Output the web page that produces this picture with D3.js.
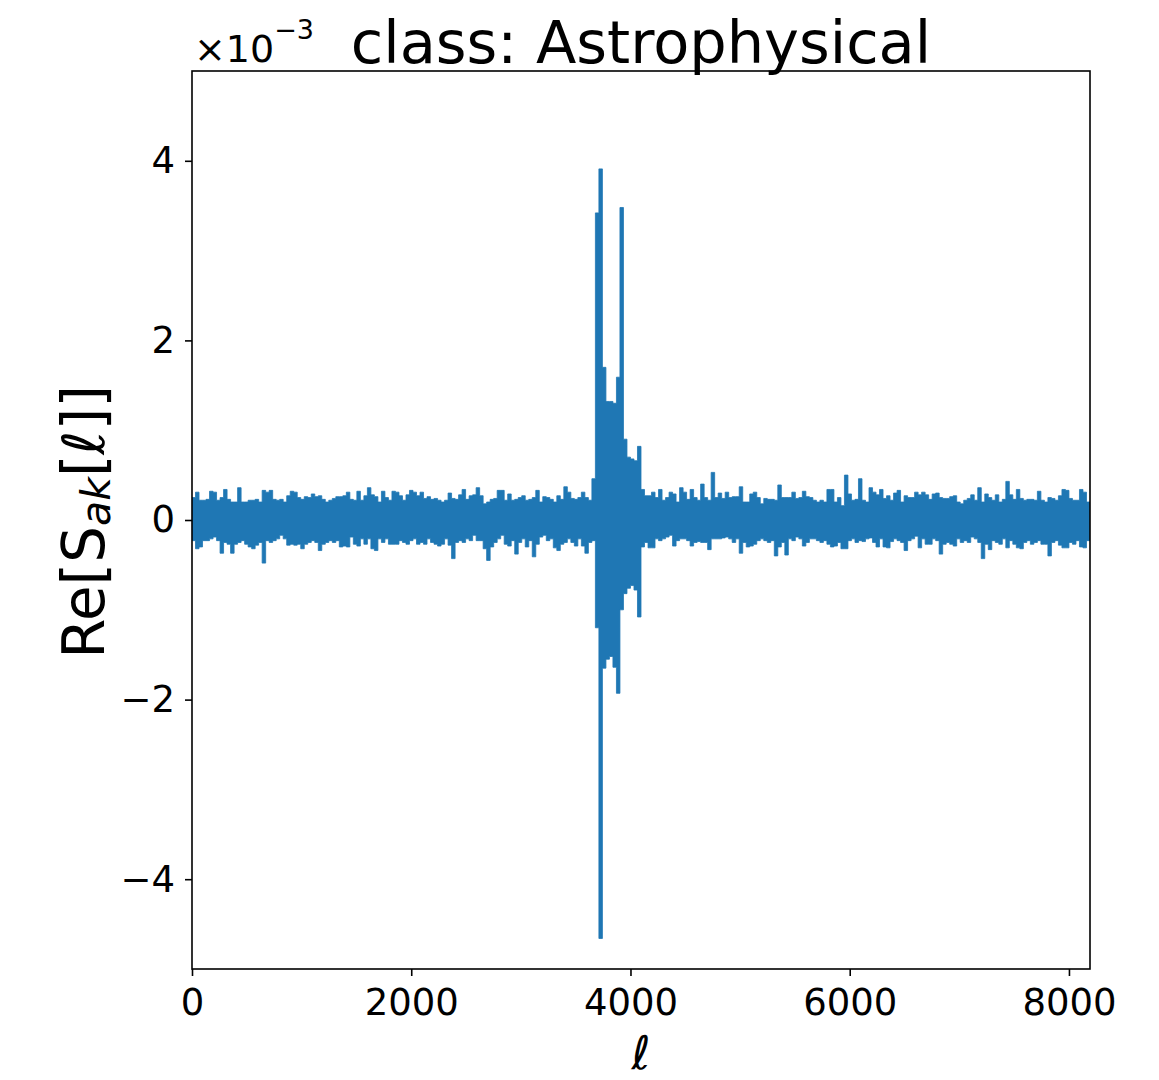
<!DOCTYPE html>
<html>
<head>
<meta charset="utf-8">
<script src="https://cdn.jsdelivr.net/npm/d3@7"></script>
<style>
  html, body { margin: 0; padding: 0; background: #ffffff; }
  svg { display: block; font-family: "DejaVu Sans", sans-serif; }
</style>
</head>
<body>
<svg id="chart" width="1159" height="1080"></svg>
<script>
// Sample index range and bin width (samples per envelope bin)
const nSamples = 8192;
const binWidth = 32;

// Per-bin maximum of Re[S_ak[l]] (units of 1e-3), 256 bins of 32 samples
const upper = [
  0.25,0.31,0.22,0.22,0.23,0.32,0.31,0.22,0.25,0.34,0.23,0.20,0.20,0.36,0.20,0.20,0.22,0.22,0.23,0.20,
  0.33,0.31,0.33,0.23,0.22,0.23,0.20,0.27,0.32,0.31,0.25,0.23,0.26,0.25,0.29,0.26,0.27,0.23,0.20,0.22,
  0.24,0.26,0.26,
  0.27,0.31,0.23,0.22,0.32,0.22,0.27,0.36,0.28,0.26,0.20,0.32,0.25,0.22,0.32,0.31,0.27,0.22,0.28,0.33,
  0.31,0.27,0.31,0.24,0.26,0.23,0.24,0.22,0.20,0.22,0.30,0.24,0.23,0.28,0.34,0.23,0.27,0.28,0.36,0.27,
  0.18,0.20,0.23,0.24,0.33,
  0.33,0.22,0.29,0.22,0.23,0.25,0.27,0.22,0.23,0.25,0.33,0.20,0.26,0.25,0.23,0.20,0.27,0.23,0.37,0.31,
  0.24,0.23,0.25,0.31,0.25,0.22,0.46,
  3.42,3.91,1.70,1.32,1.32,1.30,1.59,3.48,0.90,0.70,0.68,0.66,0.82,0.34,
  0.27,0.27,
  0.31,0.25,0.34,0.22,0.25,0.31,0.29,0.20,0.36,0.31,0.23,0.34,0.25,0.22,0.40,0.25,0.22,0.53,0.25,0.30,
  0.24,0.31,0.25,0.26,0.26,0.37,0.20,0.20,0.29,0.31,0.25,0.18,0.24,0.23,0.23,0.22,0.39,0.25,0.25,0.25,
  0.31,0.24,0.25,0.32,0.26,0.25,
  0.22,0.20,0.22,0.20,0.34,0.34,0.20,0.25,0.16,0.50,0.29,0.22,0.23,0.46,0.22,0.20,0.36,0.31,0.28,0.34,
  0.24,0.27,0.22,0.30,0.33,0.20,0.27,0.25,0.25,0.31,0.28,0.31,0.28,0.23,0.29,0.30,0.25,0.24,0.24,0.26,
  0.27,0.20,0.18,0.22,
  0.24,0.28,0.22,0.36,0.20,0.29,0.25,0.22,0.28,0.20,0.23,0.43,0.28,0.23,0.34,0.24,0.22,0.23,0.23,0.22,
  0.32,0.22,0.20,0.25,0.24,0.22,0.27,0.34,0.33,0.24,0.22,0.22,0.34,0.31,0.20
];

// Per-bin minimum of Re[S_ak[l]] (units of 1e-3)
const lower = [
  -0.23,-0.32,-0.30,-0.23,-0.23,-0.21,-0.19,-0.23,-0.37,-0.25,-0.27,-0.37,-0.27,-0.25,-0.23,-0.27,-0.30,-0.32,-0.28,-0.25,
  -0.48,-0.23,-0.25,-0.23,-0.21,-0.17,-0.21,-0.28,-0.27,-0.28,-0.27,-0.32,-0.27,-0.25,-0.23,-0.25,-0.34,-0.27,-0.25,-0.23,
  -0.25,-0.23,-0.30,
  -0.29,-0.30,-0.19,-0.27,-0.29,-0.21,-0.27,-0.21,-0.32,-0.34,-0.21,-0.25,-0.21,-0.27,-0.27,-0.27,-0.23,-0.25,-0.27,-0.23,
  -0.21,-0.27,-0.25,-0.27,-0.21,-0.25,-0.27,-0.29,-0.27,-0.21,-0.28,-0.43,-0.25,-0.23,-0.25,-0.21,-0.23,-0.17,-0.23,-0.23,
  -0.32,-0.45,-0.30,-0.25,-0.21,
  -0.17,-0.27,-0.29,-0.23,-0.38,-0.25,-0.21,-0.30,-0.23,-0.41,-0.27,-0.19,-0.17,-0.23,-0.21,-0.31,-0.34,-0.27,-0.25,-0.21,
  -0.25,-0.29,-0.21,-0.29,-0.37,-0.25,-0.23,
  -1.20,-4.66,-1.65,-1.55,-1.52,-1.64,-1.93,-1.00,-0.82,-0.76,-0.73,-0.78,-1.08,-0.30,
  -0.25,-0.31,
  -0.31,-0.21,-0.23,-0.21,-0.19,-0.17,-0.29,-0.23,-0.21,-0.21,-0.23,-0.29,-0.25,-0.24,-0.25,-0.25,-0.33,-0.21,-0.21,-0.21,
  -0.20,-0.19,-0.21,-0.25,-0.21,-0.37,-0.25,-0.30,-0.29,-0.27,-0.23,-0.21,-0.23,-0.25,-0.23,-0.40,-0.30,-0.25,-0.39,-0.21,
  -0.23,-0.19,-0.21,-0.29,-0.25,-0.21,
  -0.21,-0.23,-0.25,-0.23,-0.27,-0.30,-0.29,-0.25,-0.32,-0.32,-0.23,-0.21,-0.25,-0.23,-0.24,-0.21,-0.20,-0.25,-0.30,-0.21,
  -0.30,-0.31,-0.24,-0.21,-0.23,-0.25,-0.34,-0.23,-0.21,-0.18,-0.31,-0.21,-0.27,-0.27,-0.21,-0.23,-0.38,-0.27,-0.25,-0.27,
  -0.29,-0.21,-0.25,-0.23,
  -0.25,-0.19,-0.21,-0.25,-0.43,-0.27,-0.33,-0.23,-0.25,-0.27,-0.21,-0.31,-0.23,-0.27,-0.31,-0.32,-0.25,-0.23,-0.27,-0.25,
  -0.23,-0.27,-0.27,-0.40,-0.25,-0.23,-0.28,-0.31,-0.31,-0.25,-0.27,-0.23,-0.30,-0.31,-0.23
];

// Axis ticks
const xTicks = [0, 2000, 4000, 6000, 8000];
const yTicks = [-4, -2, 0, 2, 4];

const titleText = "class: Astrophysical";

// Layout
const plot = { left: 192, top: 71, width: 898, height: 898 };
const svg = d3.select("#chart");

const x = d3.scaleLinear().domain([0, nSamples]).range([plot.left, plot.left + plot.width]);
const y = d3.scaleLinear().domain([-5, 5]).range([plot.top + plot.height, plot.top]);

// The trace is so dense that it fills the band between each bin's max and min.
// Upper envelope as steps over the bins, then the lower envelope back again.
const bins = upper.map((hi, i) => ({ start: i * binWidth, end: (i + 1) * binWidth, hi, lo: lower[i] }));
const outline = [];
bins.forEach(b => { outline.push([b.start, b.hi]); outline.push([b.end, b.hi]); });
bins.slice().reverse().forEach(b => { outline.push([b.end, b.lo]); outline.push([b.start, b.lo]); });

svg.append("defs").append("clipPath").attr("id", "plotClip")
  .append("rect")
  .attr("x", plot.left).attr("y", plot.top)
  .attr("width", plot.width).attr("height", plot.height);

svg.append("path")
  .datum(outline)
  .attr("clip-path", "url(#plotClip)")
  .attr("fill", "#1f77b4")
  .attr("stroke", "#1f77b4")
  .attr("stroke-width", 0.8)
  .attr("stroke-linejoin", "miter")
  .attr("d", d3.line().x(d => x(d[0])).y(d => y(d[1])).curve(d3.curveLinearClosed));

// Axes
const fmt = d3.format("d");
const xAxis = svg.append("g")
  .attr("transform", `translate(0,${plot.top + plot.height})`)
  .call(d3.axisBottom(x).tickValues(xTicks).tickSize(7).tickPadding(13).tickFormat(fmt));

const yAxis = svg.append("g")
  .attr("transform", `translate(${plot.left},0)`)
  .call(d3.axisLeft(y).tickValues(yTicks).tickSize(7).tickPadding(10).tickFormat(d => d < 0 ? "\u2212" + Math.abs(d) : String(d)));

[xAxis, yAxis].forEach(g => {
  g.select(".domain").remove();
  g.selectAll(".tick line").attr("stroke", "#000").attr("stroke-width", 1.6);
  g.selectAll(".tick text")
    .attr("fill", "#000")
    .style("font-family", "'DejaVu Sans', sans-serif")
    .style("font-size", "37px");
});

// Frame
svg.append("rect")
  .attr("x", plot.left).attr("y", plot.top)
  .attr("width", plot.width).attr("height", plot.height)
  .attr("fill", "none").attr("stroke", "#000").attr("stroke-width", 1.6);

// Title
svg.append("text")
  .attr("x", plot.left + plot.width / 2)
  .attr("y", 63)
  .attr("text-anchor", "middle")
  .style("font-size", "59px")
  .attr("fill", "#000")
  .text(titleText);

// Scale factor for the y values
const offset = svg.append("text")
  .attr("x", plot.left + 2)
  .attr("y", 62)
  .attr("fill", "#000")
  .style("font-size", "38px");
offset.append("tspan").text("\u00d710");
offset.append("tspan").attr("dy", -23).style("font-size", "27px").text("\u22123");

// Y label: Re[S_ak[l]]
const ylab = svg.append("text")
  .attr("transform", `translate(104,${plot.top + plot.height / 2 + 2}) rotate(-90)`)
  .attr("text-anchor", "middle")
  .attr("fill", "#000")
  .style("font-size", "58px");
ylab.append("tspan").text("Re[S");
ylab.append("tspan").attr("dy", 6).style("font-size", "41px").style("font-style", "italic").text("ak");
ylab.append("tspan").attr("dy", -6).text("[");
ylab.append("tspan").style("font-style", "italic").text("\u2113");
ylab.append("tspan").text("]]");

// X label: l
svg.append("text")
  .attr("x", plot.left + plot.width / 2)
  .attr("y", 1069)
  .attr("text-anchor", "middle")
  .attr("fill", "#000")
  .style("font-size", "46px")
  .style("font-style", "italic")
  .text("\u2113");
</script>
</body>
</html>
